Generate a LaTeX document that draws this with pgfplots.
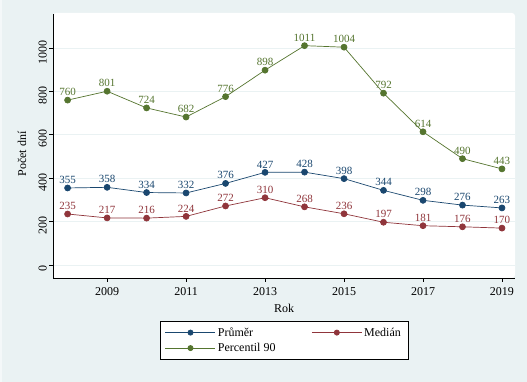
\documentclass[border=0pt]{standalone}
\usepackage{pgfplots}
\pgfplotsset{compat=1.18}
\usepackage{fontspec}
\setmainfont{Liberation Serif}
\definecolor{bg}{HTML}{EAF2F3}
\definecolor{bgl}{HTML}{F4F8F9}
\definecolor{snavy}{HTML}{1A476F}
\definecolor{smaroon}{HTML}{90353B}
\definecolor{sgreen}{HTML}{55752F}
\begin{document}
\begin{tikzpicture}[x=1pt,y=1pt]
\fill[bg] (0,0) rectangle (527,382);
\fill[bgl] (0,0) rectangle (2,382);
\fill[white, rounded corners=3pt] (53,104) rectangle (515,369);
\begin{axis}[at={(53pt,104pt)}, anchor=south west, scale only axis,
  width=462pt, height=264pt,
  xmin=2007.63, xmax=2019.33, ymin=-60, ymax=1157,
  axis x line*=bottom, axis y line*=left, axis line style={-, black, line width=0.8pt},
  xtick={2009,2011,...,2019}, ytick={0,200,...,1000},
  tick align=outside, major tick length=4pt, tick style={black, line width=0.8pt},
  /pgf/number format/assume math mode=true, /pgf/number format/1000 sep={},
  ticklabel style={font=\fontsize{12}{14}\selectfont},
  yticklabel style={rotate=90, anchor=south, inner sep=2pt, xshift=-4pt},
  xticklabel style={anchor=north, inner sep=2pt, yshift=-3pt},
  ymajorgrids, grid style={bg, line width=0.8pt},
  xlabel={Rok}, ylabel={Počet dní},
  label style={font=\fontsize{12}{14}\selectfont},
  xlabel style={at={(axis description cs:0.5,-0.115)}, anchor=center},
  ylabel style={at={(axis description cs:-0.067,0.47)}, anchor=center},
  legend style={at={(axis description cs:0.5,-0.164)}, anchor=north, draw=black, fill=white,
    font=\fontsize{12}{14}\selectfont, inner xsep=5pt, inner ysep=4pt, row sep=1.5pt,
    /tikz/every even column/.append style={column sep=34pt}},
  legend columns=2, legend cell align=left,
  legend image code/.code={\draw[mark repeat=2,mark phase=2,mark size=2.6pt,#1] plot coordinates {(0pt,0pt) (25pt,0pt) (50pt,0pt)};},
  every axis plot/.append style={line width=0.7pt, mark=*, mark size=3pt},
  nodes near coords, 
  nodes near coords style={font=\fontsize{11}{12}\selectfont, anchor=south, inner sep=1pt, yshift=3pt},
  clip=false,
]
\addplot[snavy, mark options={fill=snavy, draw=snavy}, nodes near coords style={text=snavy}] coordinates {
(2008,355) (2009,358) (2010,334) (2011,332) (2012,376) (2013,427) (2014,428) (2015,398) (2016,344) (2017,298) (2018,276) (2019,263)};
\addlegendentry{Průměr}
\addplot[smaroon, mark options={fill=smaroon, draw=smaroon}, nodes near coords style={text=smaroon}] coordinates {
(2008,235) (2009,217) (2010,216) (2011,224) (2012,272) (2013,310) (2014,268) (2015,236) (2016,197) (2017,181) (2018,176) (2019,170)};
\addlegendentry{Medián}
\addplot[sgreen, mark options={fill=sgreen, draw=sgreen}, nodes near coords style={text=sgreen}] coordinates {
(2008,760) (2009,801) (2010,724) (2011,682) (2012,776) (2013,898) (2014,1011) (2015,1004) (2016,792) (2017,614) (2018,490) (2019,443)};
\addlegendentry{Percentil 90}
\end{axis}
\end{tikzpicture}
\end{document}
